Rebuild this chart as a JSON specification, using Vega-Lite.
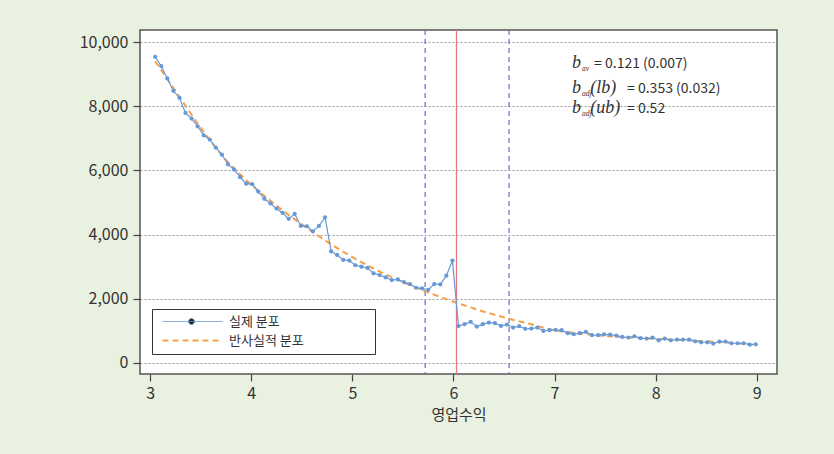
{
  "$schema": "https://vega.github.io/schema/vega-lite/v6.json",
  "autosize": {"type": "none"},
  "width": 637,
  "height": 344,
  "padding": {"left": 140, "top": 30, "right": 57, "bottom": 80},
  "background": "#e9f1e1",
  "config": {
    "font": "Noto Sans CJK KR",
    "view": {"stroke": "#555555", "strokeWidth": 1.5, "fill": "white"},
    "axis": {"labelFont": "Noto Sans CJK KR", "titleFont": "Noto Sans CJK KR"}
  },
  "datasets": {
    "actual": [
      {"x": 3.05, "y": 9540}, {"x": 3.11, "y": 9250}, {"x": 3.17, "y": 8865}, {"x": 3.23, "y": 8480},
      {"x": 3.29, "y": 8260}, {"x": 3.35, "y": 7790}, {"x": 3.41, "y": 7615}, {"x": 3.47, "y": 7375},
      {"x": 3.53, "y": 7094}, {"x": 3.59, "y": 6960}, {"x": 3.65, "y": 6710}, {"x": 3.71, "y": 6490},
      {"x": 3.77, "y": 6190}, {"x": 3.83, "y": 6030}, {"x": 3.89, "y": 5790}, {"x": 3.95, "y": 5585},
      {"x": 4.01, "y": 5570}, {"x": 4.07, "y": 5340}, {"x": 4.13, "y": 5115}, {"x": 4.19, "y": 4970},
      {"x": 4.25, "y": 4810}, {"x": 4.31, "y": 4677}, {"x": 4.37, "y": 4490}, {"x": 4.43, "y": 4646},
      {"x": 4.49, "y": 4270}, {"x": 4.55, "y": 4260}, {"x": 4.61, "y": 4104}, {"x": 4.67, "y": 4270},
      {"x": 4.73, "y": 4540}, {"x": 4.79, "y": 3480}, {"x": 4.85, "y": 3365}, {"x": 4.91, "y": 3210},
      {"x": 4.97, "y": 3190}, {"x": 5.03, "y": 3045}, {"x": 5.09, "y": 3000}, {"x": 5.15, "y": 2960},
      {"x": 5.21, "y": 2795}, {"x": 5.27, "y": 2740}, {"x": 5.33, "y": 2667}, {"x": 5.39, "y": 2583},
      {"x": 5.45, "y": 2604}, {"x": 5.51, "y": 2520}, {"x": 5.57, "y": 2460}, {"x": 5.63, "y": 2344},
      {"x": 5.69, "y": 2323}, {"x": 5.75, "y": 2281}, {"x": 5.81, "y": 2460}, {"x": 5.87, "y": 2448},
      {"x": 5.93, "y": 2720}, {"x": 5.99, "y": 3190}, {"x": 6.05, "y": 1150}, {"x": 6.11, "y": 1208},
      {"x": 6.17, "y": 1281}, {"x": 6.23, "y": 1135}, {"x": 6.29, "y": 1208}, {"x": 6.35, "y": 1260},
      {"x": 6.41, "y": 1240}, {"x": 6.47, "y": 1156}, {"x": 6.53, "y": 1198}, {"x": 6.59, "y": 1104},
      {"x": 6.65, "y": 1146}, {"x": 6.71, "y": 1063}, {"x": 6.77, "y": 1073}, {"x": 6.83, "y": 1104},
      {"x": 6.89, "y": 1000}, {"x": 6.95, "y": 1021}, {"x": 7.01, "y": 1031}, {"x": 7.07, "y": 1021},
      {"x": 7.13, "y": 927}, {"x": 7.19, "y": 896}, {"x": 7.25, "y": 927}, {"x": 7.31, "y": 969},
      {"x": 7.37, "y": 865}, {"x": 7.43, "y": 865}, {"x": 7.49, "y": 890}, {"x": 7.55, "y": 880},
      {"x": 7.61, "y": 854}, {"x": 7.67, "y": 812}, {"x": 7.73, "y": 792}, {"x": 7.79, "y": 833},
      {"x": 7.85, "y": 771}, {"x": 7.91, "y": 760}, {"x": 7.97, "y": 792}, {"x": 8.03, "y": 708},
      {"x": 8.09, "y": 760}, {"x": 8.15, "y": 708}, {"x": 8.21, "y": 729}, {"x": 8.27, "y": 729},
      {"x": 8.33, "y": 729}, {"x": 8.39, "y": 677}, {"x": 8.45, "y": 646}, {"x": 8.51, "y": 646},
      {"x": 8.57, "y": 604}, {"x": 8.63, "y": 667}, {"x": 8.69, "y": 667}, {"x": 8.75, "y": 615},
      {"x": 8.81, "y": 615}, {"x": 8.87, "y": 615}, {"x": 8.93, "y": 573}, {"x": 8.99, "y": 583}
    ],
    "counter": [
      {"x": 3.05, "y": 9400}, {"x": 3.25, "y": 8480}, {"x": 3.5, "y": 7330}, {"x": 3.75, "y": 6330},
      {"x": 4.0, "y": 5560}, {"x": 4.25, "y": 4900}, {"x": 4.5, "y": 4320}, {"x": 4.75, "y": 3780},
      {"x": 5.0, "y": 3300}, {"x": 5.25, "y": 2880}, {"x": 5.5, "y": 2520}, {"x": 5.75, "y": 2200},
      {"x": 6.0, "y": 1910}, {"x": 6.25, "y": 1650}, {"x": 6.5, "y": 1420}, {"x": 6.75, "y": 1220},
      {"x": 7.0, "y": 1020}, {"x": 7.25, "y": 920}, {"x": 7.5, "y": 845}, {"x": 7.75, "y": 795},
      {"x": 8.0, "y": 750}, {"x": 8.25, "y": 715}, {"x": 8.5, "y": 675}, {"x": 8.75, "y": 625},
      {"x": 8.99, "y": 560}
    ],
    "bounds": [{"x": 5.72}, {"x": 6.55}],
    "threshold": [{"x": 6.03}],
    "annB": [{"t": "b", "x": 7.173, "y": 9199}, {"t": "b", "x": 7.173, "y": 8402}, {"t": "b", "x": 7.173, "y": 7788}],
    "annSub": [{"t": "av", "x": 7.272, "y": 9199}, {"t": "adj", "x": 7.272, "y": 8402}, {"t": "adj", "x": 7.272, "y": 7788}],
    "annArg": [{"t": "(lb)", "x": 7.352, "y": 8402}, {"t": "(ub)", "x": 7.352, "y": 7788}],
    "annVal": [{"t": "= 0.121 (0.007)", "x": 7.391, "y": 9199}, {"t": "= 0.353 (0.032)", "x": 7.717, "y": 8402}, {"t": "= 0.52", "x": 7.717, "y": 7788}]
  },
  "layer": [
    {
      "data": {"name": "bounds"},
      "mark": {"type": "rule", "color": "#7466c4", "strokeWidth": 1.2, "strokeDash": [5, 4]},
      "encoding": {
        "x": {
          "field": "x", "type": "quantitative",
          "scale": {"domain": [2.9, 9.2], "nice": false, "zero": false},
          "axis": {
            "values": [3, 4, 5, 6, 7, 8, 9], "format": "d", "title": "영업수익", "grid": false, "domain": false,
            "tickSize": 7, "tickColor": "#444444", "tickWidth": 1.2,
            "labelFontSize": 16, "labelColor": "#333333", "labelPadding": 4,
            "titleFontSize": 15, "titleFontWeight": "normal", "titleColor": "#333333", "titlePadding": 6
          }
        }
      }
    },
    {
      "data": {"name": "threshold"},
      "mark": {"type": "rule", "color": "#e8767e", "strokeWidth": 1.3},
      "encoding": {"x": {"field": "x", "type": "quantitative"}}
    },
    {
      "data": {"name": "counter"},
      "transform": [{"calculate": "'반사실적 분포'", "as": "s"}],
      "mark": {"type": "line", "strokeWidth": 2, "interpolate": "monotone"},
      "encoding": {
        "x": {"field": "x", "type": "quantitative"},
        "y": {
          "field": "y", "type": "quantitative",
          "scale": {"domain": [-343, 10374], "nice": false, "zero": false},
          "axis": {
            "values": [0, 2000, 4000, 6000, 8000, 10000], "format": ",.0f", "title": null, "domain": false,
            "grid": true, "gridDash": [2, 2], "gridColor": "#999999", "gridWidth": 1,
            "tickSize": 7, "tickColor": "#444444", "tickWidth": 1.2,
            "labelFontSize": 16, "labelColor": "#333333", "labelPadding": 5
          }
        },
        "color": {
          "field": "s", "type": "nominal",
          "scale": {"domain": ["실제 분포", "반사실적 분포"], "range": ["#6699d6", "#f4a04a"]},
          "legend": {
            "title": null, "orient": "none", "legendX": 12, "legendY": 279,
            "fillColor": "white", "strokeColor": "#333333", "padding": 6,
            "rowPadding": 5, "symbolSize": 400, "symbolOffset": 8, "labelOffset": 50,
            "labelFontSize": 13, "labelColor": "#333333", "labelFont": "Noto Sans CJK KR",
            "labelLimit": 300,
            "labelExpr": "datum.label + '\u3000\u3000\u3000\u3000\u3000\u200b'",
            "encode": {
              "symbols": {
                "update": {
                  "shape": {"signal": "datum.value === '실제 분포' ? 'M-1,0L5,0M1.6,0a0.3,0.3 0 1,0 0.6,0a0.3,0.3 0 1,0 -0.6,0' : 'M-1,0L5,0'"},
                  "stroke": {"signal": "datum.value === '실제 분포' ? '#222222' : '#f4a04a'"},
                  "fill": {"signal": "datum.value === '실제 분포' ? '#222222' : 'transparent'"},
                  "strokeWidth": {"signal": "datum.value === '실제 분포' ? 1 : 2"},
                  "opacity": {"value": 1}
                }
              }
            }
          }
        },
        "strokeDash": {
          "field": "s", "type": "nominal",
          "scale": {"domain": ["실제 분포", "반사실적 분포"], "range": [[1, 0], [6, 4]]}
        }
      }
    },
    {
      "data": {"name": "actual"},
      "transform": [{"calculate": "'실제 분포'", "as": "s"}],
      "mark": {"type": "line", "strokeWidth": 1.2},
      "encoding": {
        "x": {"field": "x", "type": "quantitative"},
        "y": {"field": "y", "type": "quantitative"},
        "color": {"field": "s", "type": "nominal"},
        "strokeDash": {"field": "s", "type": "nominal"}
      }
    },
    {
      "data": {"name": "actual"},
      "mark": {"type": "point", "filled": true, "size": 18, "color": "#6699d6", "opacity": 1},
      "encoding": {
        "x": {"field": "x", "type": "quantitative"},
        "y": {"field": "y", "type": "quantitative"}
      }
    },
    {
      "data": {"name": "annB"},
      "mark": {"type": "text", "font": "Liberation Serif", "fontStyle": "italic", "fontSize": 18, "align": "left", "baseline": "alphabetic", "color": "#333333"},
      "encoding": {"x": {"field": "x", "type": "quantitative"}, "y": {"field": "y", "type": "quantitative"}, "text": {"field": "t"}}
    },
    {
      "data": {"name": "annSub"},
      "mark": {"type": "text", "font": "Liberation Serif", "fontStyle": "italic", "fontSize": 7.5, "align": "left", "baseline": "alphabetic", "dy": 3, "color": "#333333"},
      "encoding": {"x": {"field": "x", "type": "quantitative"}, "y": {"field": "y", "type": "quantitative"}, "text": {"field": "t"}}
    },
    {
      "data": {"name": "annArg"},
      "mark": {"type": "text", "font": "Liberation Serif", "fontStyle": "italic", "fontSize": 18, "align": "left", "baseline": "alphabetic", "color": "#333333"},
      "encoding": {"x": {"field": "x", "type": "quantitative"}, "y": {"field": "y", "type": "quantitative"}, "text": {"field": "t"}}
    },
    {
      "data": {"name": "annVal"},
      "mark": {"type": "text", "font": "Noto Sans CJK KR", "fontSize": 14, "align": "left", "baseline": "alphabetic", "color": "#333333"},
      "encoding": {"x": {"field": "x", "type": "quantitative"}, "y": {"field": "y", "type": "quantitative"}, "text": {"field": "t"}}
    }
  ]
}
